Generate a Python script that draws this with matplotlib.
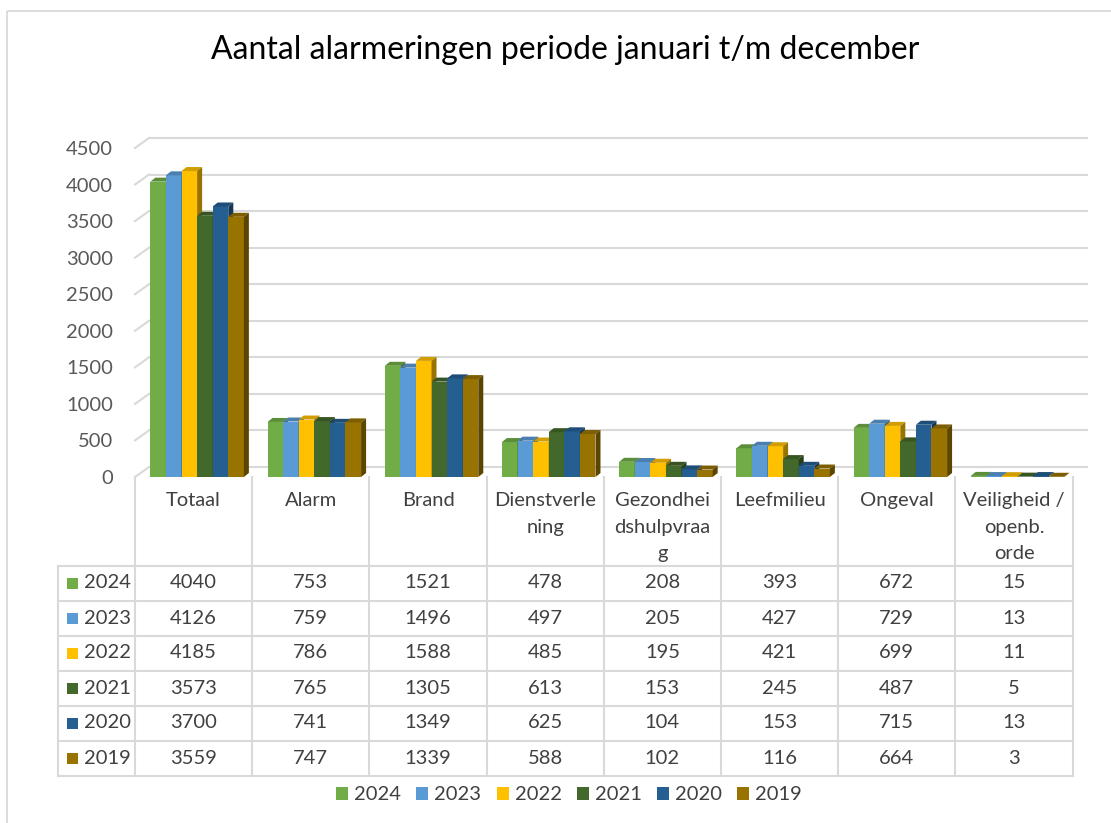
import numpy as np
import matplotlib
matplotlib.use("Agg")
import matplotlib.pyplot as plt
from matplotlib.colors import to_rgb
from matplotlib.patches import Patch, Polygon, Rectangle
from matplotlib.transforms import offset_copy

plt.rcParams['font.family'] = ['Lato', 'DejaVu Sans']

title = "Aantal alarmeringen periode januari t/m december"
categories = ["Totaal", "Alarm", "Brand", "Dienstverle\nning", "Gezondhei\ndshulpvraa\ng",
              "Leefmilieu", "Ongeval", "Veiligheid /\nopenb.\norde"]
years = ["2024", "2023", "2022", "2021", "2020", "2019"]
v2024 = [4040, 753, 1521, 478, 208, 393, 672, 15]
v2023 = [4126, 759, 1496, 497, 205, 427, 729, 13]
v2022 = [4185, 786, 1588, 485, 195, 421, 699, 11]
v2021 = [3573, 765, 1305, 613, 153, 245, 487, 5]
v2020 = [3700, 741, 1349, 625, 104, 153, 715, 13]
v2019 = [3559, 747, 1339, 588, 102, 116, 664, 3]
series = [v2024, v2023, v2022, v2021, v2020, v2019]
colors = ["#70AD47", "#5B9BD5", "#FFC000", "#43682B", "#255E91", "#997300"]
yticks = list(range(0, 4501, 500))

W, H = 1111, 823
GRID = "#d9d9d9"
TXT = "#404040"
FS = 14.5

fig = plt.figure(figsize=(W / 100, H / 100), dpi=100)

# overlay in pixel coords for the frame and the data table
ov = fig.add_axes([0, 0, 1, 1], zorder=-1)
ov.set_xlim(0, W)
ov.set_ylim(H, 0)
ov.axis("off")
ov.add_patch(Rectangle((7, 11), 1300, 1000, fill=False, ec=GRID, lw=1.3))

x_left, x_right = 135, 1072.6
y_floor, y_top = 477, 148
ax = fig.add_axes([x_left / W, 1 - y_floor / H, (x_right - x_left) / W, (y_floor - y_top) / H])
ax.set_xlim(-0.5, len(categories) - 0.5)
ax.set_ylim(0, 4500)
ax.patch.set_alpha(0)
for s in ax.spines.values():
    s.set_visible(False)
ax.set_xticks([])
ax.set_yticks(yticks)
ax.set_yticklabels([str(t) for t in yticks])
ax.tick_params(axis="y", length=0, pad=16, labelsize=FS, labelcolor="#595959")

ux = len(categories) / (x_right - x_left)   # data units per pixel
uy = 4500 / (y_floor - y_top)

# back wall grid + slanted side ticks
back = offset_copy(ax.transData, fig=fig, x=14, y=10, units="dots")
for t in yticks:
    ax.plot([-0.5, len(categories) - 0.5], [t, t], transform=back, color=GRID,
            lw=1.5, zorder=0, clip_on=False)
    ax.plot([-0.5, -0.5 + 14 * ux], [t, t + 10 * uy], color=GRID, lw=1.5,
            zorder=0, clip_on=False)

# 3d-ish bars
w = 0.133
shift = 0.03
ddx, ddy = 5 * ux, 4 * uy
idx = np.arange(len(categories))
for i, (vals, c) in enumerate(zip(series, colors)):
    xs = idx + shift + (i - 2.5) * w
    ax.bar(xs, vals, width=w, color=c, lw=0, zorder=10 + i, clip_on=False)
    rgb = np.array(to_rgb(c))
    for x, v in zip(xs, vals):
        x0, x1 = x - w / 2, x + w / 2
        ax.add_patch(Polygon([(x0, v), (x1, v), (x1 + ddx, v + ddy), (x0 + ddx, v + ddy)],
                             closed=True, fc=rgb * 0.82, lw=0, zorder=10 + i, clip_on=False))
        ax.add_patch(Polygon([(x1, 0), (x1 + ddx, ddy), (x1 + ddx, v + ddy), (x1, v)],
                             closed=True, fc=rgb * 0.6, lw=0, zorder=10 + i, clip_on=False))

# data table
col_w = (x_right - x_left) / len(categories)
col_x = [x_left + k * col_w for k in range(len(categories) + 1)]
row_top, row_h = 565.5, 35
row_y = [row_top + k * row_h for k in range(len(years) + 1)]
key_left = 58
for cx in col_x:
    ov.plot([cx, cx], [y_floor, row_y[-1]], color=GRID, lw=1.5)
ov.plot([key_left, key_left], [row_top, row_y[-1]], color=GRID, lw=1.5)
for ry in row_y:
    ov.plot([key_left, x_right], [ry, ry], color=GRID, lw=1.5)

for k, cat in enumerate(categories):
    ov.text((col_x[k] + col_x[k + 1]) / 2, 492, cat, ha="center", va="top",
            fontsize=FS, color=TXT, linespacing=1.68)

for r, (yr, vals, c) in enumerate(zip(years, series, colors)):
    yc = row_y[r] + row_h / 2
    ov.add_patch(Rectangle((67, yc - 5.5), 11, 11, fc=c, lw=0))
    ov.text(84, yc, yr, ha="left", va="center", fontsize=FS, color=TXT)
    for k, v in enumerate(vals):
        ov.text((col_x[k] + col_x[k + 1]) / 2, yc, str(v), ha="center", va="center",
                fontsize=FS, color=TXT)

fig.text(565 / W, 1 - 50 / H, title, ha="center", va="center", fontsize=23, color="black")

handles = [Patch(fc=c, lw=0) for c in colors]
fig.legend(handles, years, loc="center", bbox_to_anchor=(569 / W, 1 - 795 / H), ncol=6,
           frameon=False, fontsize=FS, handlelength=0.6, handleheight=0.6,
           handletextpad=0.3, columnspacing=0.75, labelcolor=TXT)

fig.savefig("out.png", dpi=100)
